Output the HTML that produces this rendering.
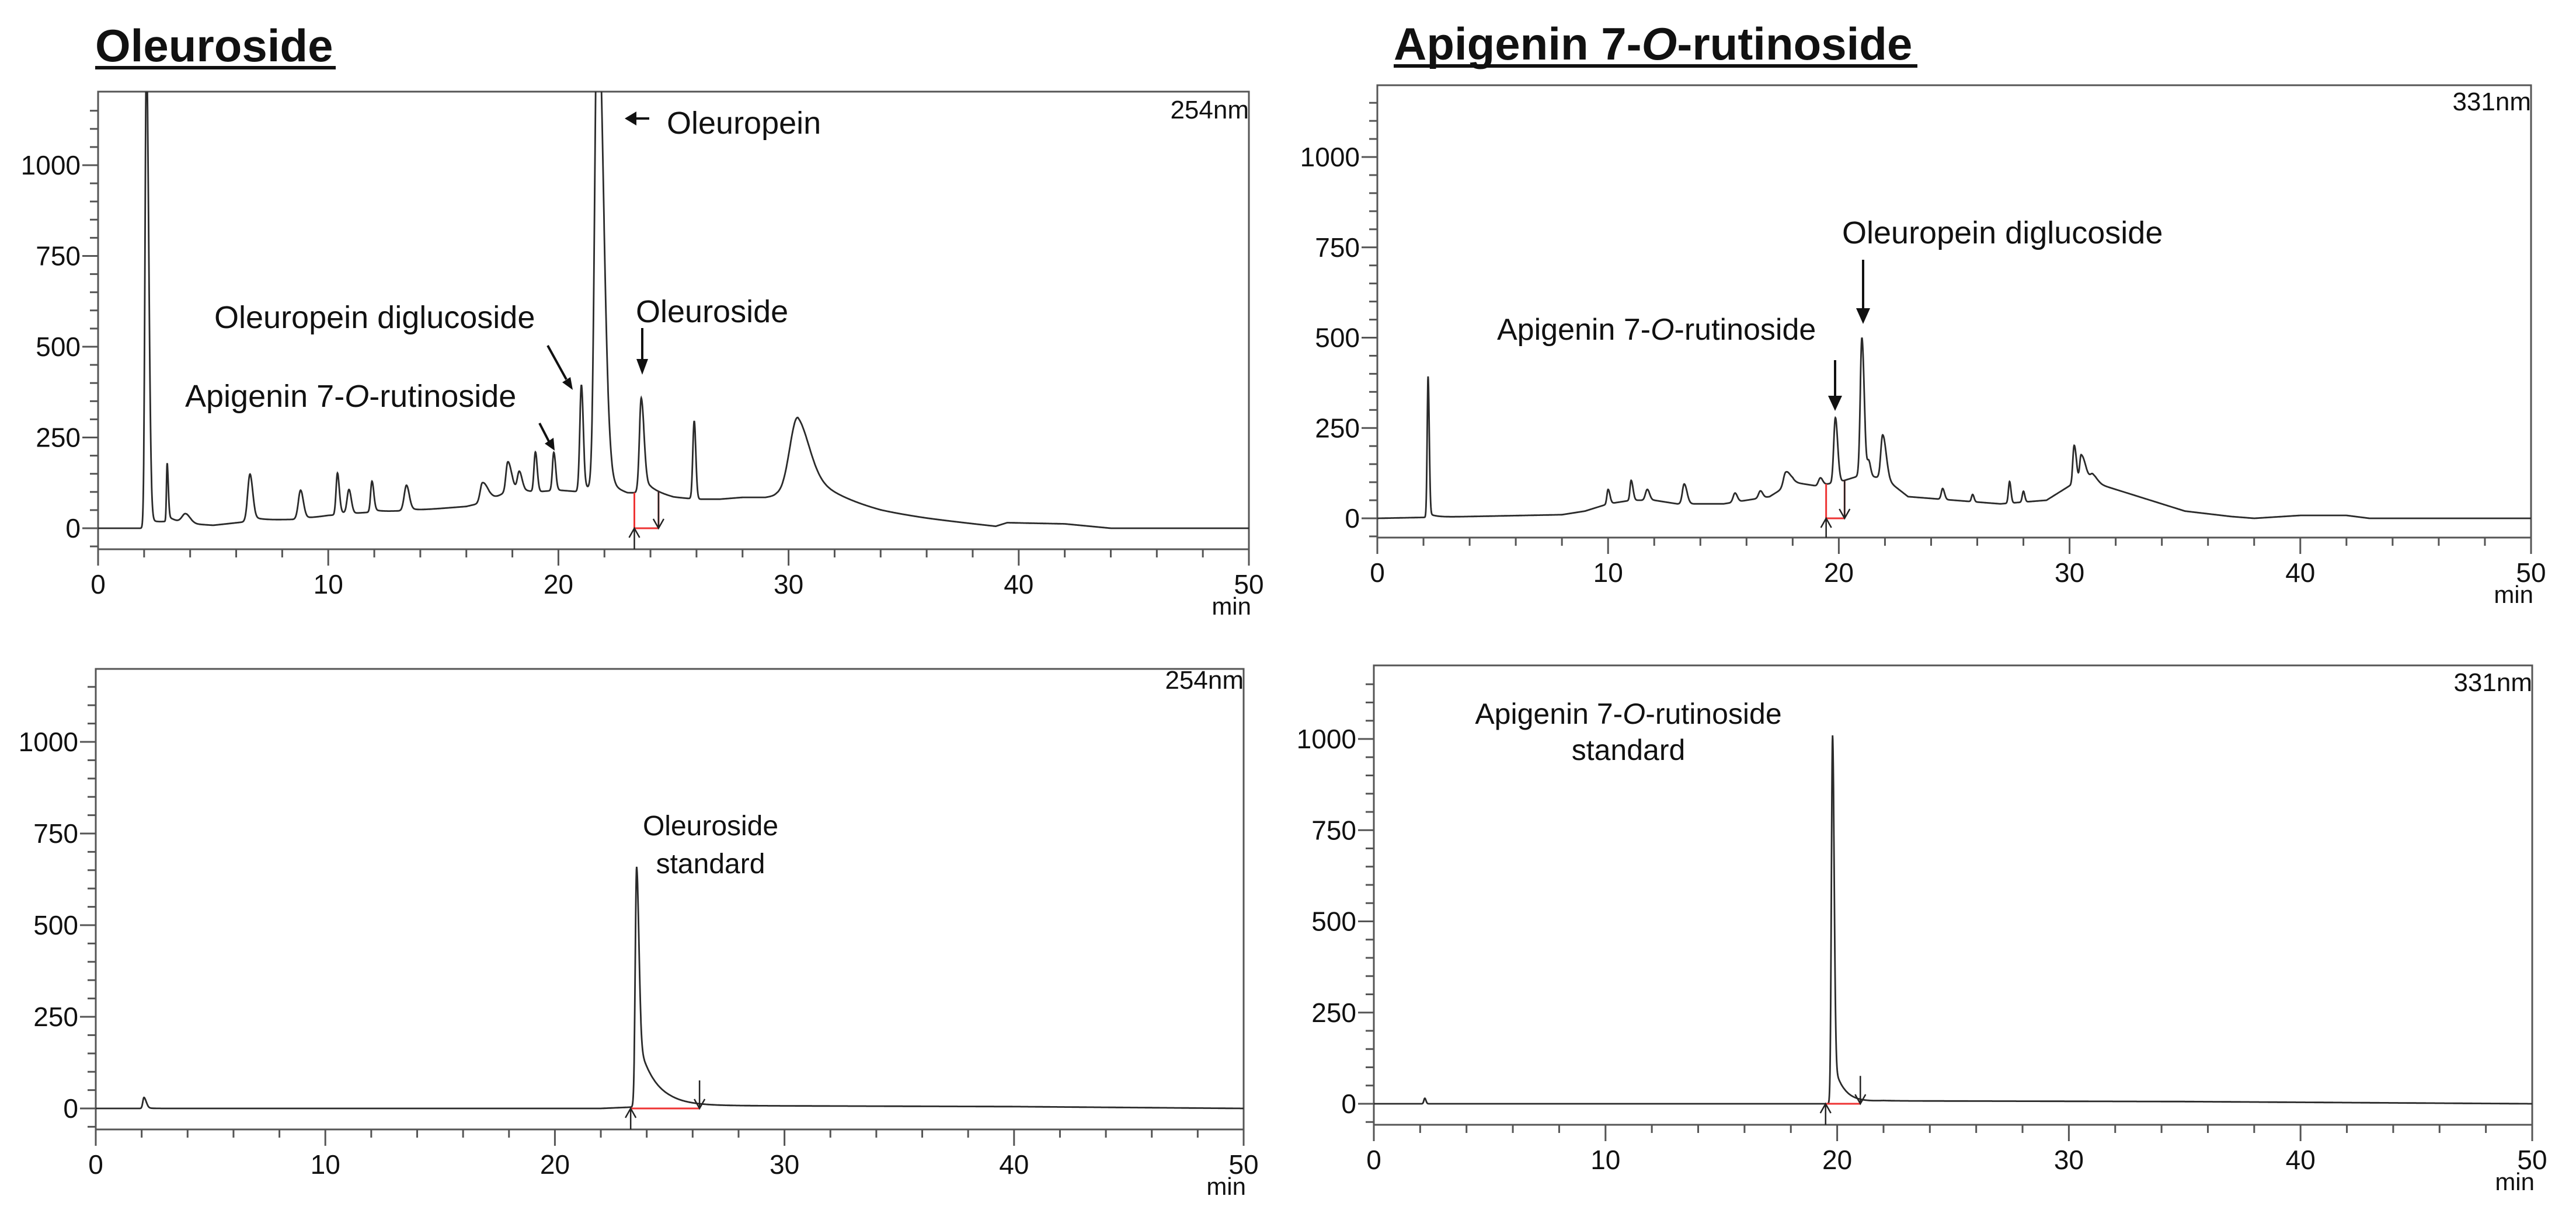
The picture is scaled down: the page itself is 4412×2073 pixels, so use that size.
<!DOCTYPE html>
<html><head><meta charset="utf-8"><style>
html,body{margin:0;padding:0;background:#fff}
svg{display:block}
text{font-family:"Liberation Sans",Arial,sans-serif;fill:#111}
</style></head><body>
<svg id="fig" xmlns="http://www.w3.org/2000/svg" width="4412" height="2073" viewBox="0 0 4412 2073">
<text x="163" y="105" font-size="78" font-weight="bold">Oleuroside</text>
<rect x="163" y="113" width="412" height="6" fill="#111"/>
<text x="2387" y="102" font-size="78" font-weight="bold">Apigenin 7-<tspan font-style="italic">O</tspan>-rutinoside</text>
<rect x="2387" y="110" width="897" height="6" fill="#111"/>
<g id="panels"></g>
<text x="1142" y="229" font-size="54">Oleuropein</text>
<g><line x1="1085" y1="203" x2="1112" y2="203" stroke="#111" stroke-width="4"/><polygon points="1070,203 1090,191 1090,215" fill="#111"/></g>
<text x="367" y="562" font-size="54">Oleuropein diglucoside</text>
<text x="1089" y="552" font-size="54">Oleuroside</text>
<text x="317" y="697" font-size="54">Apigenin 7-<tspan font-style="italic">O</tspan>-rutinoside</text>
<text x="2139" y="203" font-size="44" text-anchor="end">254nm</text>
<text x="3155" y="417" font-size="54">Oleuropein diglucoside</text>
<text x="2564" y="582" font-size="52">Apigenin 7-<tspan font-style="italic">O</tspan>-rutinoside</text>
<text x="4335" y="189" font-size="44" text-anchor="end">331nm</text>
<text x="1217" y="1431" font-size="48" text-anchor="middle">Oleuroside</text>
<text x="1217" y="1496" font-size="48" text-anchor="middle">standard</text>
<text x="2130" y="1180" font-size="44" text-anchor="end">254nm</text>
<text x="2789" y="1240" font-size="50" text-anchor="middle">Apigenin 7-<tspan font-style="italic">O</tspan>-rutinoside</text>
<text x="2789" y="1302" font-size="50" text-anchor="middle">standard</text>
<text x="4337" y="1184" font-size="44" text-anchor="end">331nm</text>
<g stroke="#111" stroke-width="4">
<line x1="938" y1="592" x2="970" y2="650"/><polygon points="963,655 981,668 977,646" fill="#111" stroke="none"/>
<line x1="1100" y1="562" x2="1100" y2="620"/><polygon points="1090,615 1110,615 1100,642" fill="#111" stroke="none"/>
<line x1="924" y1="725" x2="941" y2="758"/><polygon points="933,760 950,772 948,750" fill="#111" stroke="none"/>
<line x1="3143" y1="617" x2="3143" y2="680"/><polygon points="3131,678 3155,678 3143,704" fill="#111" stroke="none"/>
<line x1="3191" y1="445" x2="3191" y2="530"/><polygon points="3179,528 3203,528 3191,555" fill="#111" stroke="none"/>
</g>
</svg>
<script>
// ---- data: top-left (254nm) ----
const tlBaseT = [0,2,3,5,7,9,10,12,14,16,17,18,19,20,21,22,23,24,25,26,27,28,29,29.5,34,36,39,39.5,42,44,50];
const tlBaseV = [0,0,15,8,22,25,35,45,50,60,75,110,100,105,100,100,90,100,85,80,80,85,85,90,40,25,5,15,12,0,0];
const tlPeakT = [2.1,3.0,3.8,6.6,8.8,10.4,10.9,11.9,13.4,16.7,17.8,18.3,19.0,19.8,21.0,21.7,23.6,25.9,30.4];
const tlPeakH = [1300,160,25,130,80,115,65,85,70,55,80,50,110,105,295,1400,260,215,225];
const tlPeakW = [0.06,0.03,0.15,0.1,0.1,0.06,0.08,0.06,0.1,0.1,0.08,0.08,0.06,0.06,0.07,0.12,0.08,0.06,0.35];
const tlPeakTail = [0.1,0.05,0.2,0.12,0.12,0.08,0.1,0.08,0.12,0.25,0.15,0.12,0.08,0.08,0.08,0.25,0.12,0.07,0.5];
const tlExpFrac = [0.02,0.1,0,0.1,0.1,0.1,0,0.1,0.1,0,0,0,0,0,0.1,0.05,0.15,0,0.45];
const tlExpTau = [0.5,0.4,1,0.4,0.4,0.3,1,0.3,0.4,1,1,1,1,1,0.3,0.6,0.4,1,1.6];
// ---- data: top-right (331nm) ----
const trBaseT = [0,8,9,10,11,12,13,15,17,18,19,20,21,22,23,25,27,29,30,31,33,35,37,38,40,42,43,50];
const trBaseV = [0,10,20,40,50,50,40,40,60,100,90,100,120,110,60,50,40,50,90,100,60,20,5,0,8,8,0,0];
const trPeakT = [2.2,10.0,11.0,11.7,13.3,15.5,16.6,17.7,19.2,19.85,21.0,21.3,21.9,24.5,25.8,27.4,28.0,30.2,30.5,31.0];
const trPeakH = [390,40,55,30,55,25,20,40,20,180,380,40,120,30,20,60,30,110,80,20];
const trPeakW = [0.04,0.05,0.05,0.08,0.08,0.08,0.08,0.1,0.08,0.07,0.07,0.06,0.08,0.06,0.05,0.05,0.05,0.06,0.06,0.1];
const trPeakTail = [0.05,0.08,0.08,0.1,0.12,0.1,0.1,0.2,0.1,0.1,0.1,0.08,0.15,0.08,0.06,0.06,0.06,0.1,0.2,0.2];
const trExpFrac = [0.03,0,0,0,0,0,0,0,0,0,0,0,0,0,0,0,0,0,0,0];
const trExpTau = [0.3,1,1,1,1,1,1,1,1,1,1,1,1,1,1,1,1,1,1,1];
// ---- data: bottom-left standard (254nm) ----
const blBaseT = [0,22,25,40,50];
const blBaseV = [0,0,8,5,0];
const blPeakT = [2.1,23.56];
const blPeakH = [30,655];
const blPeakW = [0.05,0.06];
const blPeakTail = [0.1,0.1];
const blExpFrac = [0.1,0.3];
const blExpTau = [0.2,0.75];
// ---- data: bottom-right standard (331nm) ----
const brBaseT = [0,20,22,35,50];
const brBaseV = [0,0,8,6,0];
const brPeakT = [2.2,19.8];
const brPeakH = [15,1010];
const brPeakW = [0.04,0.05];
const brPeakTail = [0.05,0.07];
const brExpFrac = [0,0.12];
const brExpTau = [1,0.45];
// ---- axis ticks ----
const xTickLabels = [0,10,20,30,40,50];
const yTickLabels = [0,250,500,750,1000];
const tlInteg = [23.3,24.35];
const trInteg = [19.45,20.25];
const blInteg = [23.3,26.3];
const brInteg = [19.5,21.0];

const panels = [
 {id:'tl',x0:168,x50:2139,y0:905,ppu:0.622,top:157,axis:941,bt:tlBaseT,bv:tlBaseV,pt:tlPeakT,ph:tlPeakH,pw:tlPeakW,pr:tlPeakTail,ef:tlExpFrac,et:tlExpTau,ig:tlInteg,full:true},
 {id:'tr',x0:2359,x50:4335,y0:888,ppu:0.619,top:146,axis:921,bt:trBaseT,bv:trBaseV,pt:trPeakT,ph:trPeakH,pw:trPeakW,pr:trPeakTail,ef:trExpFrac,et:trExpTau,ig:trInteg,full:true},
 {id:'bl',x0:164,x50:2130,y0:1899,ppu:0.628,top:1146,axis:1935,bt:blBaseT,bv:blBaseV,pt:blPeakT,ph:blPeakH,pw:blPeakW,pr:blPeakTail,ef:blExpFrac,et:blExpTau,ig:blInteg,full:false},
 {id:'br',x0:2353,x50:4337,y0:1891,ppu:0.625,top:1140,axis:1927,bt:brBaseT,bv:brBaseV,pt:brPeakT,ph:brPeakH,pw:brPeakW,pr:brPeakTail,ef:brExpFrac,et:brExpTau,ig:brInteg,full:false}
];
const NS='http://www.w3.org/2000/svg';
const root=document.getElementById('panels');
function mk(tag,attrs,parent){const e=document.createElementNS(NS,tag);for(const k in attrs)e.setAttribute(k,attrs[k]);(parent||root).appendChild(e);return e;}
function interp(T,V,t){for(let i=0;i<T.length-1;i++){if(t>=T[i]&&t<=T[i+1]){return V[i]+(V[i+1]-V[i])*(t-T[i])/(T[i+1]-T[i]);}}return V[V.length-1];}
function signal(p,t){let v=interp(p.bt,p.bv,t);for(let i=0;i<p.pt.length;i++){const d=t-p.pt[i];
  if(d<0){v+=p.ph[i]*Math.exp(-0.5*(d/p.pw[i])*(d/p.pw[i]));}
  else{const f=p.ef[i];v+=p.ph[i]*((1-f)*Math.exp(-0.5*(d/p.pr[i])*(d/p.pr[i]))+f*Math.exp(-d/p.et[i]));}}
  return v;}
panels.forEach(p=>{
  const sx=t=>p.x0+(p.x50-p.x0)*t/50;
  const sy=v=>p.y0-v*p.ppu;
  const g=mk('g',{});
  
  
  const cp=mk('clipPath',{id:'clip-'+p.id},g);
  mk('rect',{x:p.x0,y:p.top,width:p.x50-p.x0,height:p.axis-p.top},cp);
  const fr=mk('rect',{x:p.x0,y:p.top,width:p.x50-p.x0,height:p.axis-p.top,fill:'none',stroke:'#555','stroke-width':3},g);
  
  
  for(let v=-50;v<=1150;v+=50){
    const y=sy(v); if(y<p.top||y>p.axis) continue;
    const major=v%250===0;
    const tk=mk('line',{x1:p.x0-(major?27:14),x2:p.x0,y1:y,y2:y,stroke:'#555','stroke-width':3},g);
    
    
  }
  yTickLabels.forEach(v=>{
    const tx=mk('text',{x:p.x0-30,y:sy(v)+16,'font-size':46,'text-anchor':'end'},g);
    tx.textContent=v;
    
    
  });
  for(let t=0;t<=50;t+=2){
    const major=t%10===0;
    const tk=mk('line',{x1:sx(t),x2:sx(t),y1:p.axis,y2:p.axis+(major?28:14),stroke:'#555','stroke-width':3},g);
    
    
  }
  xTickLabels.forEach(t=>{
    const tx=mk('text',{x:sx(t),y:p.axis+76,'font-size':46,'text-anchor':'middle'},g);
    tx.textContent=t;
    
    
  });
  const mn=mk('text',{x:p.x50+4,y:p.axis+112,'font-size':42,'text-anchor':'end'},g);
  mn.textContent='min';
  
  
  let d='';
  for(let i=0;i<=5000;i++){const t=i*0.01;const v=signal(p,t);d+=(i?'L':'M')+sx(t).toFixed(1)+','+sy(v).toFixed(1);}
  const tr=mk('path',{d:d,fill:'none',stroke:'#2a2a2a','stroke-width':2.8,'clip-path':'url(#clip-'+p.id+')'},g);
  
  
  const a=p.ig[0],b=p.ig[1];
  const rd=mk('g',{stroke:'#e33','stroke-width':3,fill:'none'},g);
  
  
  mk('line',{x1:sx(a),x2:sx(b),y1:sy(0),y2:sy(0)},rd);
  if(p.full){
    mk('line',{x1:sx(a),x2:sx(a),y1:sy(0),y2:sy(signal(p,a))},rd);
    mk('line',{x1:sx(b),x2:sx(b),y1:sy(0),y2:sy(signal(p,b))},rd);
  }
  const ar=mk('g',{stroke:'#222','stroke-width':2.5,fill:'none'},g);
  
  
  const xa=sx(a),xb=sx(b),y0=sy(0);
  mk('path',{d:`M${xa},${p.axis} L${xa},${y0} M${xa-9},${y0+16} L${xa},${y0} L${xa+9},${y0+16}`},ar);
  const yb=sy(signal(p,b))-(p.full?0:40);
  mk('path',{d:`M${xb},${yb} L${xb},${y0} M${xb-9},${y0-16} L${xb},${y0} L${xb+9},${y0-16}`},ar);
});
</script>
</body></html>
